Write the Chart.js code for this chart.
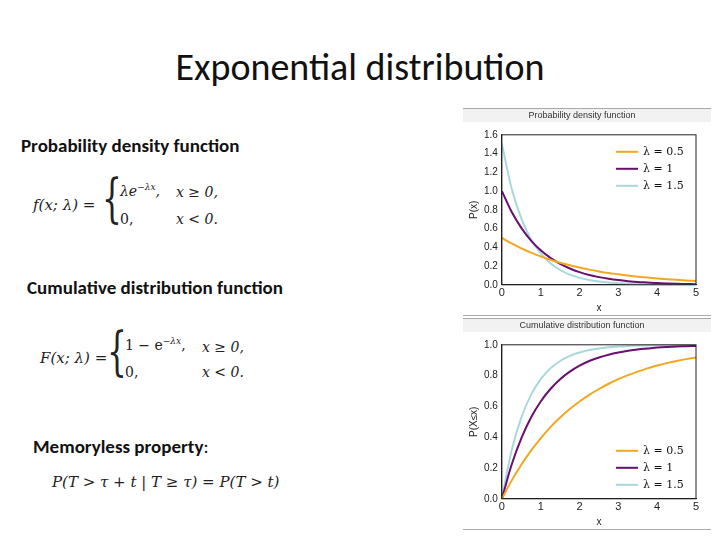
<!DOCTYPE html>
<html><head><meta charset="utf-8">
<script src="https://cdn.jsdelivr.net/npm/chart.js@4/dist/chart.umd.min.js"></script>
<style>
body{margin:0;width:720px;height:540px;background:#fff;position:relative;font-family:"Liberation Sans",sans-serif;overflow:hidden}
.t{position:absolute;white-space:nowrap}
.s{font-family:Carlito,'Open Sans',sans-serif;font-weight:bold;font-size:19px;color:#111}
.m{font-family:"DejaVu Serif","Liberation Serif",serif;font-style:italic;color:#222}
.box{position:absolute;left:463px;width:248px;border-top:1px solid #aaa;border-bottom:1px solid #aaa}
</style></head><body>
<div class="t" style="left:0;width:720px;text-align:center;top:44px;font-size:38px;font-family:Carlito,'Open Sans',sans-serif;color:#111">Exponential distribution</div>
<div class="t s" style="left:21px;top:134px">Probability density function</div>
<div class="t s" style="left:27px;top:276px">Cumulative distribution function</div>
<div class="t s" style="left:33px;top:435px">Memoryless property<span style="font-weight:normal">:</span></div>
<div class="t m" style="left:33px;top:196px;font-size:15px">f(x; λ) =</div>
<div class="t" style="left:102px;top:168px;font-size:52px;font-family:'DejaVu Serif';color:#222;transform:scaleX(0.6);transform-origin:left">{</div>
<div class="t m" style="left:120px;top:182px;font-size:14px">λe<sup style="font-size:9px">−λx</sup>,</div>
<div class="t m" style="left:176px;top:184px;font-size:14px">x ≥ 0,</div>
<div class="t m" style="left:120px;top:211px;font-size:14px;font-style:normal">0,</div>
<div class="t m" style="left:176px;top:211px;font-size:14px">x &lt; 0.</div>
<div class="t m" style="left:40px;top:349px;font-size:15px">F(x; λ) =</div>
<div class="t" style="left:107px;top:321px;font-size:52px;font-family:'DejaVu Serif';color:#222;transform:scaleX(0.6);transform-origin:left">{</div>
<div class="t m" style="left:125px;top:336px;font-size:14px;font-style:normal">1 − e<sup style="font-size:9px;font-style:italic">−λx</sup>,</div>
<div class="t m" style="left:202px;top:339px;font-size:14px">x ≥ 0,</div>
<div class="t m" style="left:125px;top:364px;font-size:14px;font-style:normal">0,</div>
<div class="t m" style="left:202px;top:364px;font-size:14px">x &lt; 0.</div>
<div class="t m" style="left:52px;top:473px;font-size:15px">P(T &gt; τ + t | T ≥ τ) = P(T &gt; t)</div>
<div class="box" style="top:108px;height:206px"></div>
<div class="box" style="top:318px;height:210px"></div>
<div style="position:absolute;left:463px;top:108px;width:248px;height:206px"><canvas id="c1"></canvas></div>
<div style="position:absolute;left:463px;top:318px;width:248px;height:210px"><canvas id="c2"></canvas></div>
<script>
const xs=[0,0.25,0.5,0.75,1,1.25,1.5,1.75,2,2.25,2.5,2.75,3,3.25,3.5,3.75,4,4.25,4.5,4.75,5];
const labels=["λ = 0.5","λ = 1","λ = 1.5"];
const colors=["#f0a820","#6a0f6f","#a8d8dc"];
const pdf05=[.5,.441,.389,.344,.303,.268,.236,.208,.184,.162,.143,.126,.112,.098,.087,.077,.068,.060,.053,.047,.041];
const pdf1=[1,.779,.607,.472,.368,.287,.223,.174,.135,.105,.082,.064,.050,.039,.030,.024,.018,.014,.011,.009,.007];
const pdf15=[1.5,1.031,.709,.487,.335,.23,.158,.108,.074,.051,.035,.024,.017,.011,.008,.005,.004,.003,.002,.001,.001];
const cdf05=[0,.118,.221,.313,.393,.465,.528,.583,.632,.675,.713,.747,.777,.803,.826,.847,.865,.881,.895,.907,.918];
const cdf1=[0,.221,.393,.528,.632,.713,.777,.826,.865,.895,.918,.936,.950,.961,.970,.976,.982,.986,.989,.991,.993];
const cdf15=[0,.313,.528,.675,.777,.847,.895,.928,.950,.966,.976,.984,.989,.992,.995,.996,.998,.998,.999,.999,.999];
function ds(arrs){return arrs.map((a,i)=>({label:labels[i],data:a.map((v,j)=>({x:xs[j],y:v})),borderColor:colors[i],borderWidth:2,pointRadius:0,cubicInterpolationMode:'monotone',fill:false}));}
const legendPlug={id:'lg',afterDraw(ch,a,o){const c=ch.ctx,ca=ch.chartArea;c.save();c.font='11px "DejaVu Serif"';c.textBaseline='middle';
 const y0=o.bottom?ca.bottom-48:ca.top+17;
 ch.data.datasets.forEach((d,i)=>{const y=y0+i*17;c.strokeStyle=d.borderColor;c.lineWidth=2;c.beginPath();c.moveTo(ca.right-80,y);c.lineTo(ca.right-58,y);c.stroke();c.fillStyle='#111';c.fillText(d.label,ca.right-53,y);});c.restore();}};
const frame={id:'fr',beforeDraw(ch){const c=ch.ctx;c.save();c.fillStyle='#f2f2f2';c.fillRect(0,1,ch.width,13);c.restore();},
 afterDraw(ch){const c=ch.ctx,ca=ch.chartArea;c.save();c.strokeStyle='#222';c.lineWidth=1;c.strokeRect(ca.left,ca.top,ca.right-ca.left,ca.bottom-ca.top);c.restore();}};
function mk(id,arrs,max,step,ytitle,title,bottom){
 new Chart(document.getElementById(id),{type:'line',data:{datasets:ds(arrs)},plugins:[legendPlug,frame],
 options:{responsive:true,maintainAspectRatio:false,animation:false,layout:{padding:{right:15,top:0,bottom:0,left:5}},
 plugins:{legend:{display:false},tooltip:{enabled:false},lg:{bottom},title:{display:true,text:title,color:'#333',font:{size:9,weight:'normal'},padding:{top:2,bottom:14}}},
 scales:{x:{type:'linear',min:0,max:5,ticks:{stepSize:1,color:'#222',font:{size:11},padding:2},grid:{display:false,drawTicks:false},border:{color:'#222'},title:{display:true,text:'x',color:'#222',font:{size:10},padding:0}},
 y:{min:0,max:max,ticks:{stepSize:step,color:'#222',font:{size:10},padding:4,callback:v=>v.toFixed(1)},grid:{display:false,drawTicks:false},border:{color:'#222'},title:{display:true,text:ytitle,color:'#222',font:{size:10},padding:0}}}}});
}
mk('c1',[pdf05,pdf1,pdf15],1.6,0.2,'P(x)','Probability density function',false);
mk('c2',[cdf05,cdf1,cdf15],1.0,0.2,'P(X≤x)','Cumulative distribution function',true);
</script></body></html>
